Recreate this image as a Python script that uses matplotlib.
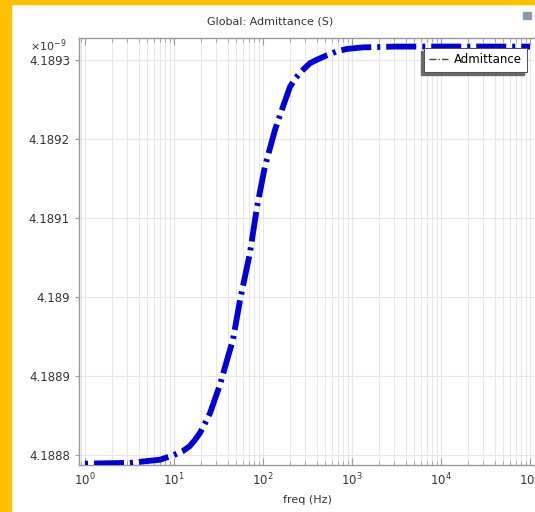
#!/usr/bin/env python3
"""Global: Admittance (S) vs frequency, COMSOL-style plot."""
import matplotlib; matplotlib.use("Agg")
import matplotlib.pyplot as plt
from matplotlib.lines import Line2D
from matplotlib.patches import Rectangle
from matplotlib.ticker import FuncFormatter, MultipleLocator, LogLocator, NullFormatter

# values, admittance in units of 1e-9 S
freq = [1, 3.2, 7, 10, 12.6, 15, 17.2, 19.6, 22.3, 25.4, 32.9, 39.4, 46, 55.2,
        71.4, 85.7, 105, 136, 163, 201, 229, 261, 337, 415, 524, 680, 879, 1330,
        3000, 10000, 100000]
adm = [4.188789, 4.188790, 4.188794, 4.188800, 4.188805, 4.188811, 4.188819,
       4.188828, 4.188840, 4.188853, 4.188889, 4.188920, 4.188946, 4.188996,
       4.189056, 4.189114, 4.189165, 4.189211, 4.189237, 4.189266, 4.189276,
       4.189284, 4.189296, 4.189301, 4.189306, 4.189311, 4.189314, 4.189316,
       4.189317, 4.189317, 4.189317]
series_name = "Admittance"

plt.rcParams["lines.scale_dashes"] = False
plt.rcParams["font.family"] = "DejaVu Sans"
W, H = 535, 512
fig = plt.figure(figsize=(W / 100, H / 100), dpi=100)
fig.patch.set_facecolor("white")

def px(x0, y0, x1, y1):
    return [x0 / W, 1 - y1 / H, (x1 - x0) / W, (y1 - y0) / H]

# yellow frame of the screenshot + little toolbar icon
fig.patches.append(Rectangle((0, 0), 11 / W, 1, transform=fig.transFigure, color="#ffc000", zorder=0))
fig.patches.append(Rectangle((0, 1 - 4 / H), 1, 4 / H, transform=fig.transFigure, color="#ffc000", zorder=0))
fig.patches.append(Rectangle((523 / W, 1 - 19 / H), 8 / W, 7 / H, transform=fig.transFigure,
                             color="#8a9bb0", zorder=1))

ax = fig.add_axes(px(79, 38, 536, 465))
ax.plot(freq, adm, color="#0000d8", lw=4.2, linestyle=(25.9, (21.6, 4.3, 2.2, 4.3)),
        dash_capstyle="butt", zorder=3)
ax.set_xscale("log")
ax.set_xlim(10 ** -0.067, 10 ** 5.067)
ax.set_ylim(4.1887873, 4.18932785)

ax.yaxis.set_major_locator(MultipleLocator(0.0001))
ax.yaxis.set_major_formatter(FuncFormatter(lambda v, p: "{:g}".format(round(v, 6))))
ax.xaxis.set_major_locator(LogLocator(base=10, numticks=10))
ax.xaxis.set_minor_locator(LogLocator(base=10, subs=range(2, 10), numticks=20))
ax.xaxis.set_minor_formatter(NullFormatter())

ax.grid(True, which="major", color="#e6e6e6", lw=0.8)
ax.grid(True, which="minor", axis="x", color="#e6e6e6", lw=0.8)
for s in ax.spines.values():
    s.set_color("#999999"); s.set_linewidth(1.0)
ax.tick_params(axis="x", which="both", direction="in", top=True, colors="#999999",
               labelcolor="#333333", labelsize=8.5, pad=5)
ax.tick_params(axis="x", which="major", length=5)
ax.tick_params(axis="x", which="minor", length=3)
ax.tick_params(axis="y", direction="out", length=3, colors="#999999",
               labelcolor="#333333", labelsize=8.5)

ax.set_xlabel("freq (Hz)", fontsize=8, color="#333333", labelpad=5)
ax.set_ylabel("Admittance (S)", fontsize=8, color="#333333", labelpad=14)
fig.text(270 / W, 1 - 21 / H, "Global: Admittance (S)", ha="center", va="center",
         fontsize=8, color="#333333")
fig.text(30 / W, 1 - 46 / H, r"$\times$10$^{-9}$", ha="left", va="center",
         fontsize=8, color="#333333")

# legend with shadow offset to the lower left
handle = Line2D([], [], color="#444444", lw=1, dashes=(5, 1.5, 1, 1.5))
leg = ax.legend([handle], [series_name], loc="upper right", fontsize=8.5,
                bbox_to_anchor=(527 / W, 1 - 48 / H), bbox_transform=fig.transFigure,
                borderaxespad=0, fancybox=False, framealpha=1, edgecolor="#555555",
                handlelength=1.6, handletextpad=0.5, borderpad=0.45)
leg.get_frame().set_linewidth(0.8)
fig.canvas.draw()
bb = leg.get_window_extent().transformed(fig.transFigure.inverted())
ax.add_patch(Rectangle((bb.x0 - 3 / W, bb.y0 - 3 / H), bb.width, bb.height,
                       transform=fig.transFigure, color="#6a6a6a", zorder=4.9, clip_on=False))

fig.savefig("out.png", dpi=100)
print("wrote out.png")
